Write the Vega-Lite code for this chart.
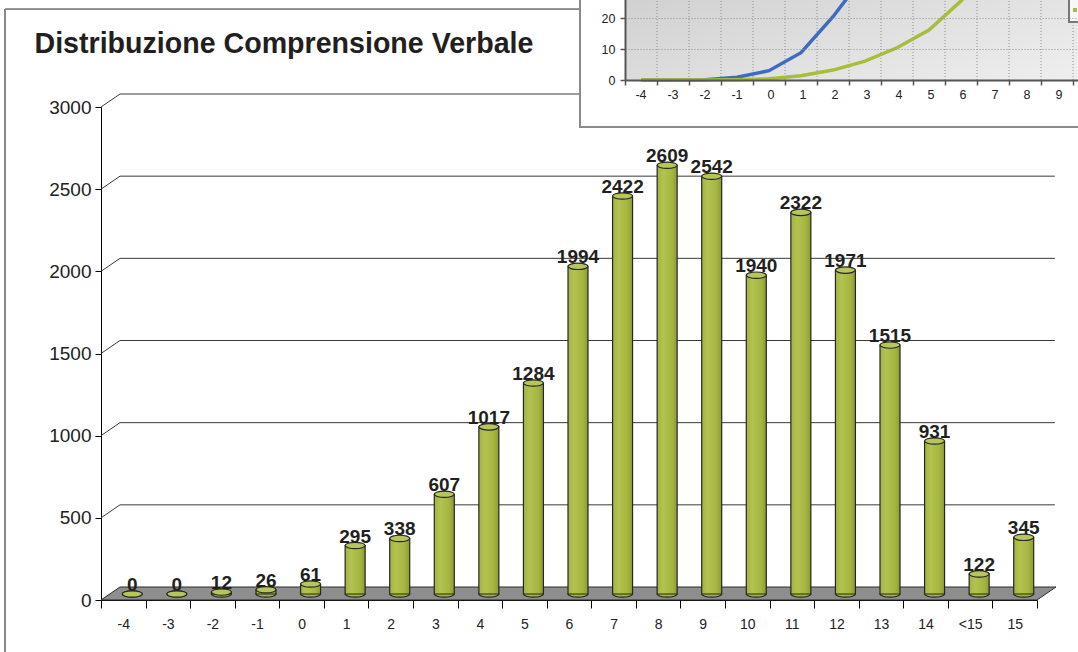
{
  "$schema": "https://vega.github.io/schema/vega-lite/v6.json",
  "width": 936,
  "height": 493,
  "autosize": {"type": "none"},
  "padding": {"left": 101, "top": 107, "right": 41, "bottom": 52},
  "background": "white",
  "config": {"view": {"stroke": null}, "font": "Liberation Sans"},
  "datasets": {
    "bars": [
      {"cat": "-4", "n": 0}, {"cat": "-3", "n": 0}, {"cat": "-2", "n": 12}, {"cat": "-1", "n": 26},
      {"cat": "0", "n": 61}, {"cat": "1", "n": 295}, {"cat": "2", "n": 338}, {"cat": "3", "n": 607},
      {"cat": "4", "n": 1017}, {"cat": "5", "n": 1284}, {"cat": "6", "n": 1994}, {"cat": "7", "n": 2422},
      {"cat": "8", "n": 2609}, {"cat": "9", "n": 2542}, {"cat": "10", "n": 1940}, {"cat": "11", "n": 2322},
      {"cat": "12", "n": 1971}, {"cat": "13", "n": 1515}, {"cat": "14", "n": 931}, {"cat": "<15", "n": 122},
      {"cat": "15", "n": 345}
    ],
    "grid": [{"v": 500}, {"v": 1000}, {"v": 1500}, {"v": 2000}, {"v": 2500}, {"v": 3000}],
    "inset": [
      {"x": "-4", "s": "A", "y": 0}, {"x": "-3", "s": "A", "y": 0}, {"x": "-2", "s": "A", "y": 0.1},
      {"x": "-1", "s": "A", "y": 0.9}, {"x": "0", "s": "A", "y": 3.0}, {"x": "1", "s": "A", "y": 8.8},
      {"x": "2", "s": "A", "y": 20.4}, {"x": "3", "s": "A", "y": 34}, {"x": "4", "s": "A", "y": 50},
      {"x": "5", "s": "A", "y": 66},
      {"x": "-4", "s": "B", "y": 0}, {"x": "-3", "s": "B", "y": 0}, {"x": "-2", "s": "B", "y": 0},
      {"x": "-1", "s": "B", "y": 0.1}, {"x": "0", "s": "B", "y": 0.4}, {"x": "1", "s": "B", "y": 1.4},
      {"x": "2", "s": "B", "y": 3.2}, {"x": "3", "s": "B", "y": 6.1}, {"x": "4", "s": "B", "y": 10.4},
      {"x": "5", "s": "B", "y": 16.1}, {"x": "6", "s": "B", "y": 25.5}, {"x": "7", "s": "B", "y": 36},
      {"x": "8", "s": "B", "y": 48}, {"x": "9", "s": "B", "y": 61}
    ]
  },
  "layer": [
    {
      "layer": [
        {
          "data": {"values": [{}]},
          "mark": {"type": "rule", "color": "#222222", "strokeWidth": 1},
          "encoding": {
            "x": {"datum": -2.154, "type": "quantitative", "scale": {"domain": [0, 21], "nice": false, "zero": false}, "axis": null},
            "x2": {"datum": 25},
            "y": {"datum": 3596, "type": "quantitative", "scale": {"domain": [0, 3000], "nice": false, "zero": false}, "axis": null}
          }
        },
        {
          "data": {"values": [{}]},
          "mark": {"type": "rule", "color": "#8a8a8a", "strokeWidth": 2},
          "encoding": {
            "x": {"datum": -2.154, "type": "quantitative", "scale": {"domain": [0, 21], "nice": false, "zero": false}, "axis": null},
            "y": {"datum": 3596, "type": "quantitative", "scale": {"domain": [0, 3000], "nice": false, "zero": false}, "axis": null},
            "y2": {"datum": -400}
          }
        },
        {
          "data": {"values": [{}]},
          "mark": {"type": "point", "shape": "M-1,0.01361L0.96021,0.01361L1,-0.01361L-0.96021,-0.01361Z", "size": 912025, "filled": true, "fill": "#8e8e8e", "stroke": "#2a2a2a", "strokeWidth": 1, "opacity": 1, "yOffset": -6.5},
          "encoding": {
            "x": {"datum": 10.713, "type": "quantitative", "scale": {"domain": [0, 21], "nice": false, "zero": false}, "axis": null},
            "y": {"datum": 0, "type": "quantitative", "scale": {"domain": [0, 3000], "nice": false, "zero": false}, "axis": null}
          }
        },
        {
          "data": {"name": "grid"},
          "mark": {"type": "rule", "color": "#3a3a3a", "strokeWidth": 1, "yOffset": -13},
          "encoding": {
            "x": {"datum": 0.4263, "type": "quantitative", "scale": {"domain": [0, 21], "nice": false, "zero": false}, "axis": null},
            "x2": {"datum": 21.4},
            "y": {"field": "v", "type": "quantitative", "scale": {"domain": [0, 3000], "nice": false, "zero": false}, "axis": null}
          }
        },
        {
          "data": {"name": "grid"},
          "mark": {"type": "rule", "color": "#3a3a3a", "strokeWidth": 1, "y2Offset": -13},
          "encoding": {
            "x": {"datum": 0, "type": "quantitative", "scale": {"domain": [0, 21], "nice": false, "zero": false}, "axis": null},
            "x2": {"datum": 0.4263},
            "y": {"field": "v", "type": "quantitative", "scale": {"domain": [0, 3000], "nice": false, "zero": false}, "axis": null},
            "y2": {"field": "v"}
          }
        }
      ]
    },
    {
      "data": {"name": "bars"},
      "encoding": {
        "x": {
          "field": "cat", "type": "ordinal",
          "scale": {"type": "band", "domain": ["-4", "-3", "-2", "-1", "0", "1", "2", "3", "4", "5", "6", "7", "8", "9", "10", "11", "12", "13", "14", "<15", "15"], "paddingInner": 0, "paddingOuter": 0},
          "axis": {"orient": "bottom", "tickBand": "extent", "labelAngle": 0, "labelFontSize": 14, "labelColor": "#222222", "labelPadding": 9, "tickSize": 8, "tickColor": "#000000", "domainColor": "#000000", "title": null, "grid": false}
        }
      },
      "layer": [
        {
          "mark": {"type": "point", "shape": "M-1,0A1,0.32,0,1,1,1,0A1,0.32,0,1,1,-1,0Z", "size": 400, "filled": true, "fill": "#a2b23f", "stroke": "#262626", "strokeWidth": 1.2, "opacity": 1, "xOffset": 9, "yOffset": -6},
          "encoding": {"y": {"datum": 0, "type": "quantitative", "scale": {"domain": [0, 3000], "nice": false}}}
        },
        {
          "mark": {
            "type": "bar", "width": 20, "xOffset": 9, "yOffset": -6, "y2Offset": -6,
            "fill": {"gradient": "linear", "x1": 0, "y1": 0, "x2": 1, "y2": 0, "stops": [
              {"offset": 0, "color": "#a3b342"}, {"offset": 0.3, "color": "#b3c350"}, {"offset": 0.75, "color": "#a5b540"}, {"offset": 1, "color": "#8c9b32"}]},
            "stroke": "#262626", "strokeWidth": 1.2
          },
          "encoding": {
            "y": {
              "field": "n", "type": "quantitative", "scale": {"domain": [0, 3000], "nice": false},
              "axis": {
                "orient": "left", "values": [0, 500, 1000, 1500, 2000, 2500, 3000], "format": "d", "grid": false,
                "labelFontSize": 19, "labelColor": "#222222", "labelPadding": 4, "tickSize": 6, "tickColor": "#000000", "domainColor": "#000000",
                "title": "Distribuzione Comprensione Verbale", "titleAngle": 0, "titleX": -67, "titleY": -55, "titleAlign": "left", "titleBaseline": "alphabetic",
                "titleFontSize": 28.6, "titleFontWeight": "bold", "titleColor": "#231f20"
              }
            }
          }
        },
        {
          "mark": {"type": "point", "shape": "M-1,0A1,0.32,0,1,1,1,0A1,0.32,0,1,1,-1,0Z", "size": 400, "filled": true, "fill": "#b7c65b", "stroke": "#262626", "strokeWidth": 1.2, "opacity": 1, "xOffset": 9, "yOffset": -6},
          "encoding": {"y": {"field": "n", "type": "quantitative"}}
        },
        {
          "mark": {"type": "text", "fontSize": 19, "fontWeight": "bold", "color": "#231f20", "baseline": "alphabetic", "xOffset": 9, "yOffset": -9},
          "encoding": {"y": {"field": "n", "type": "quantitative"}, "text": {"field": "n", "type": "nominal"}}
        }
      ]
    },
    {
      "layer": [
        {
          "data": {"values": [{}]},
          "mark": {"type": "rect", "fill": "#ffffff", "stroke": "#8a8a8a", "strokeWidth": 2, "xOffset": -61, "yOffset": 47},
          "encoding": {
            "x": {"datum": "-4", "type": "ordinal", "scale": {"type": "band", "domain": ["-4", "-3", "-2", "-1", "0", "1", "2", "3", "4", "5", "6", "7", "8", "9", "10", "11", "12", "13", "14", "15"], "range": [524, 1164], "paddingInner": 0, "paddingOuter": 0}},
            "x2": {"datum": "15"},
            "y": {"datum": 0, "type": "quantitative", "scale": {"domain": [0, 60], "range": [-27, -213], "nice": false}},
            "y2": {"datum": 60}
          }
        },
        {
          "data": {"values": [{}]},
          "mark": {"type": "rect", "strokeWidth": 0, "xOffset": -16, "fill": {"gradient": "linear", "x1": 0, "y1": 0, "x2": 1, "y2": 1, "stops": [{"offset": 0, "color": "#c2c2c2"}, {"offset": 1, "color": "#f6f6f6"}]}},
          "encoding": {
            "x": {"datum": "-4", "type": "ordinal"},
            "x2": {"datum": "15"},
            "y": {"datum": 0, "type": "quantitative"},
            "y2": {"datum": 60}
          }
        },
        {
          "data": {"name": "inset"},
          "transform": [{"filter": "datum.s == 'B'"}],
          "mark": {"type": "rule", "color": "#8f8f8f", "strokeWidth": 1, "strokeDash": [1, 2], "xOffset": 16},
          "encoding": {
            "x": {"field": "x", "type": "ordinal"},
            "y": {"datum": 0, "type": "quantitative"},
            "y2": {"datum": 60}
          }
        },
        {
          "data": {"name": "inset"},
          "mark": {"type": "line", "strokeWidth": 3.5},
          "encoding": {
            "x": {
              "field": "x", "type": "ordinal",
              "axis": {"orient": "bottom", "offset": -520, "values": ["-4", "-3", "-2", "-1", "0", "1", "2", "3", "4", "5", "6", "7", "8", "9"], "tickBand": "extent", "grid": false, "domainColor": "#555555", "domainWidth": 2, "tickColor": "#555555", "tickWidth": 1.5, "tickSize": 5, "labelPadding": 9, "labelOffset": 5, "labelFontSize": 12.5, "labelColor": "#222222", "labelAngle": 0, "title": null, "zindex": 1}
            },
            "y": {
              "field": "y", "type": "quantitative",
              "axis": {"orient": "left", "offset": -524, "values": [0, 10, 20], "grid": true, "gridDash": [1, 2], "gridColor": "#8f8f8f", "domainColor": "#555555", "domainWidth": 2, "tickColor": "#555555", "tickWidth": 1.5, "tickSize": 5, "labelPadding": 5, "labelFontSize": 12.5, "labelColor": "#222222", "title": null, "zindex": 1}
            },
            "color": {"field": "s", "type": "nominal", "scale": {"domain": ["A", "B"], "range": ["#3f6bbf", "#a6be3a"]}, "legend": null}
          }
        },
        {
          "data": {"values": [{}]},
          "mark": {"type": "rect", "fill": "#f7f7f7", "stroke": "#777777", "strokeWidth": 2, "xOffset": 12, "yOffset": -58},
          "encoding": {
            "x": {"datum": "9", "type": "ordinal"},
            "x2": {"datum": "15"},
            "y": {"datum": 0, "type": "quantitative"},
            "y2": {"datum": 60}
          }
        },
        {
          "data": {"values": [{}]},
          "mark": {"type": "point", "shape": "square", "size": 16, "filled": true, "fill": "#a6be3a", "opacity": 1, "xOffset": 18, "yOffset": -70},
          "encoding": {
            "x": {"datum": "9", "type": "ordinal"},
            "y": {"datum": 0, "type": "quantitative"}
          }
        }
      ]
    }
  ],
  "resolve": {"scale": {"x": "independent", "y": "independent"}}
}
